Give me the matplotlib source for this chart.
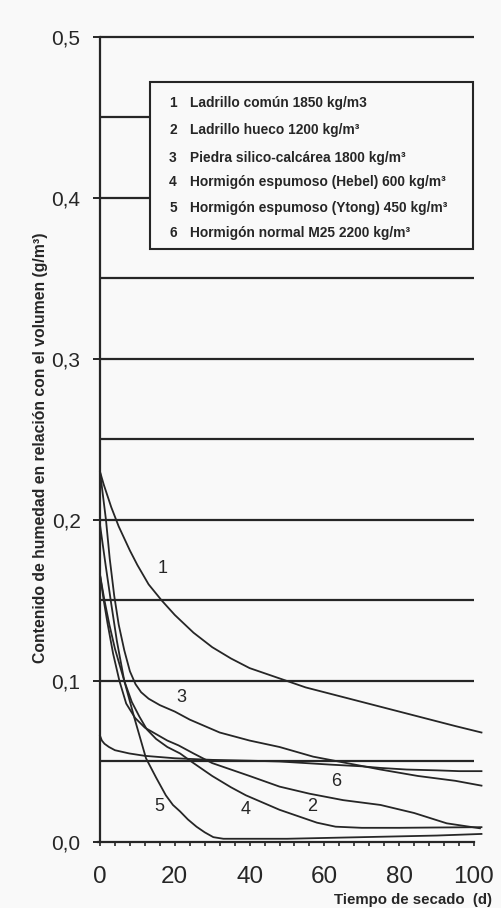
import matplotlib
matplotlib.use('Agg')
import matplotlib.pyplot as plt
from matplotlib.patches import Rectangle

plt.rcParams['font.family'] = ['Liberation Sans', 'DejaVu Sans']

# curves (days, g/m3 per volume)
x1 = [0, 1, 2, 3, 4, 5, 6, 8, 10, 13, 16.5, 20, 25, 30, 35, 40, 45, 50, 55, 60, 65, 70, 75, 80, 85, 90, 95, 102]
y1 = [0.230, 0.222, 0.215, 0.208, 0.202, 0.196, 0.191, 0.181, 0.172, 0.160, 0.150, 0.141, 0.130, 0.121,
      0.114, 0.108, 0.104, 0.100, 0.096, 0.093, 0.090, 0.087, 0.084, 0.081, 0.078, 0.075, 0.072, 0.068]

x2 = [0, 1, 2, 3.5, 5.2, 7, 9.4, 12, 15, 18, 21, 25, 30, 35, 40, 48, 56, 65, 75, 84, 92.7, 101.6]
y2 = [0.166, 0.150, 0.136, 0.117, 0.100, 0.086, 0.077, 0.071, 0.067, 0.063, 0.060, 0.055, 0.049, 0.045,
      0.041, 0.0344, 0.030, 0.026, 0.023, 0.018, 0.0116, 0.0085]

x3 = [0, 0.8, 1.6, 2.6, 3.8, 5, 6.5, 8, 9.5, 11, 13, 16, 20, 24, 28, 32, 40, 48, 57, 66, 75, 85, 95, 102]
y3 = [0.230, 0.215, 0.200, 0.176, 0.153, 0.135, 0.119, 0.106, 0.098, 0.093, 0.089, 0.085, 0.081, 0.076,
      0.072, 0.068, 0.063, 0.059, 0.053, 0.049, 0.045, 0.041, 0.038, 0.035]

x4 = [0, 1.2, 2.5, 4, 6.5, 8.5, 10.5, 12.5, 15, 18, 21.4, 25, 30, 35, 39, 44, 48, 53, 58, 63, 70, 80, 90, 102]
y4 = [0.166, 0.150, 0.135, 0.120, 0.100, 0.087, 0.078, 0.070, 0.064, 0.059, 0.055, 0.049, 0.041, 0.034,
      0.029, 0.024, 0.020, 0.016, 0.012, 0.0095, 0.0088, 0.0088, 0.009, 0.0092]

x5 = [0, 1.5, 3, 4.5, 6.5, 9.2, 12.3, 15, 17.6, 19.5, 21.4, 23.5, 25.8, 28, 30.3, 33, 40, 50, 60, 70, 80, 90, 102]
y5 = [0.197, 0.172, 0.148, 0.125, 0.100, 0.077, 0.052, 0.040, 0.029, 0.023, 0.019, 0.014, 0.0095, 0.006,
      0.003, 0.002, 0.002, 0.002, 0.0025, 0.003, 0.0035, 0.004, 0.005]

x6 = [0, 0.5, 1.2, 2.4, 4, 7.8, 12, 20, 30, 40, 48, 55, 62, 70, 75, 82, 90, 96, 102]
y6 = [0.066, 0.063, 0.061, 0.059, 0.057, 0.055, 0.0535, 0.052, 0.051, 0.0505, 0.050, 0.049, 0.048, 0.047,
      0.046, 0.045, 0.0445, 0.044, 0.044]

curves = [(x1, y1), (x2, y2), (x3, y3), (x4, y4), (x5, y5), (x6, y6)]

# curve number labels (x, y)
lab_num = ['1', '3', '6', '2', '4', '5']
lab_x = [16.8, 21.8, 63.1, 56.6, 38.9, 15.8]
lab_y = [0.170, 0.0896, 0.0374, 0.0220, 0.0199, 0.0220]

legend_txt = ['Ladrillo común 1850 kg/m3',
              'Ladrillo hueco 1200 kg/m³',
              'Piedra silico-calcárea 1800 kg/m³',
              'Hormigón espumoso (Hebel) 600 kg/m³',
              'Hormigón espumoso (Ytong) 450 kg/m³',
              'Hormigón normal M25 2200 kg/m³']

grid_full = [0.05, 0.10, 0.15, 0.20, 0.25, 0.30, 0.35, 0.50]
grid_short = [0.40, 0.45]   # stop at the legend box

yticks = [0.0, 0.1, 0.2, 0.3, 0.4, 0.5]
ytick_lab = ['0,0', '0,1', '0,2', '0,3', '0,4', '0,5']
xticks = [0, 20, 40, 60, 80, 100]

ink = '#262626'
bg = '#f9f9f9'

fig = plt.figure(figsize=(5.01, 9.08), dpi=100, facecolor=bg)
ax = fig.add_axes([0.1996, 0.0727, 0.7689, 0.8866])
ax.set_facecolor(bg)
ax.set_xlim(0, 103)
ax.set_ylim(0, 0.5)

ax.hlines(grid_full, 0, 100, colors=ink, lw=1.6, clip_on=False)
ax.hlines(grid_short, 0, 13.4, colors=ink, lw=1.6, clip_on=False)

for xs, ys in curves:
    ax.plot(xs, ys, color=ink, lw=1.3, clip_on=False)

for t, xx, yy in zip(lab_num, lab_x, lab_y):
    ax.text(xx, yy, t, fontsize=13, color=ink, ha='center', va='center')

# legend box
ax.add_patch(Rectangle((13.4, 0.368), 99.7 - 13.4, 0.472 - 0.368, fill=True,
                       facecolor=bg, edgecolor=ink, lw=1.5, clip_on=False, zorder=3))
leg_y = [0.459, 0.442, 0.425, 0.410, 0.394, 0.378]
for i, (t, yy) in enumerate(zip(legend_txt, leg_y)):
    ax.text(19.5, yy, str(i + 1), fontsize=9.9, fontweight='bold', color=ink,
            ha='center', va='center', zorder=4)
    ax.text(24.1, yy, t, fontsize=9.9, fontweight='bold', color=ink,
            ha='left', va='center', zorder=4)

for s in ['top', 'right']:
    ax.spines[s].set_visible(False)
ax.spines['left'].set_bounds(0, 0.5)
ax.spines['bottom'].set_bounds(-0.6, 100)
for s in ['left', 'bottom']:
    ax.spines[s].set_linewidth(1.6)
    ax.spines[s].set_color(ink)

ax.set_yticks(yticks)
ax.set_yticklabels(ytick_lab)
ax.set_xticks(xticks)
ax.set_xticks(range(0, 101, 4), minor=True)
ax.tick_params(axis='y', direction='out', length=5, width=1.4, color=ink,
               labelsize=15, labelcolor=ink, pad=9)
ax.tick_params(axis='x', which='both', direction='out', length=3, width=1.2, color=ink,
               labelsize=17.5, labelcolor=ink, pad=14)

fig.text(0.08, 0.507, 'Contenido de humedad en relación con el volumen (g/m³)',
         rotation=90, fontsize=11.3, fontweight='bold', color=ink, ha='center', va='center')
fig.text(0.982, 0.0088, 'Tiempo de secado  (d)', fontsize=10.8, fontweight='bold',
         color=ink, ha='right', va='center')

fig.savefig('out.png', dpi=100, facecolor=bg)
